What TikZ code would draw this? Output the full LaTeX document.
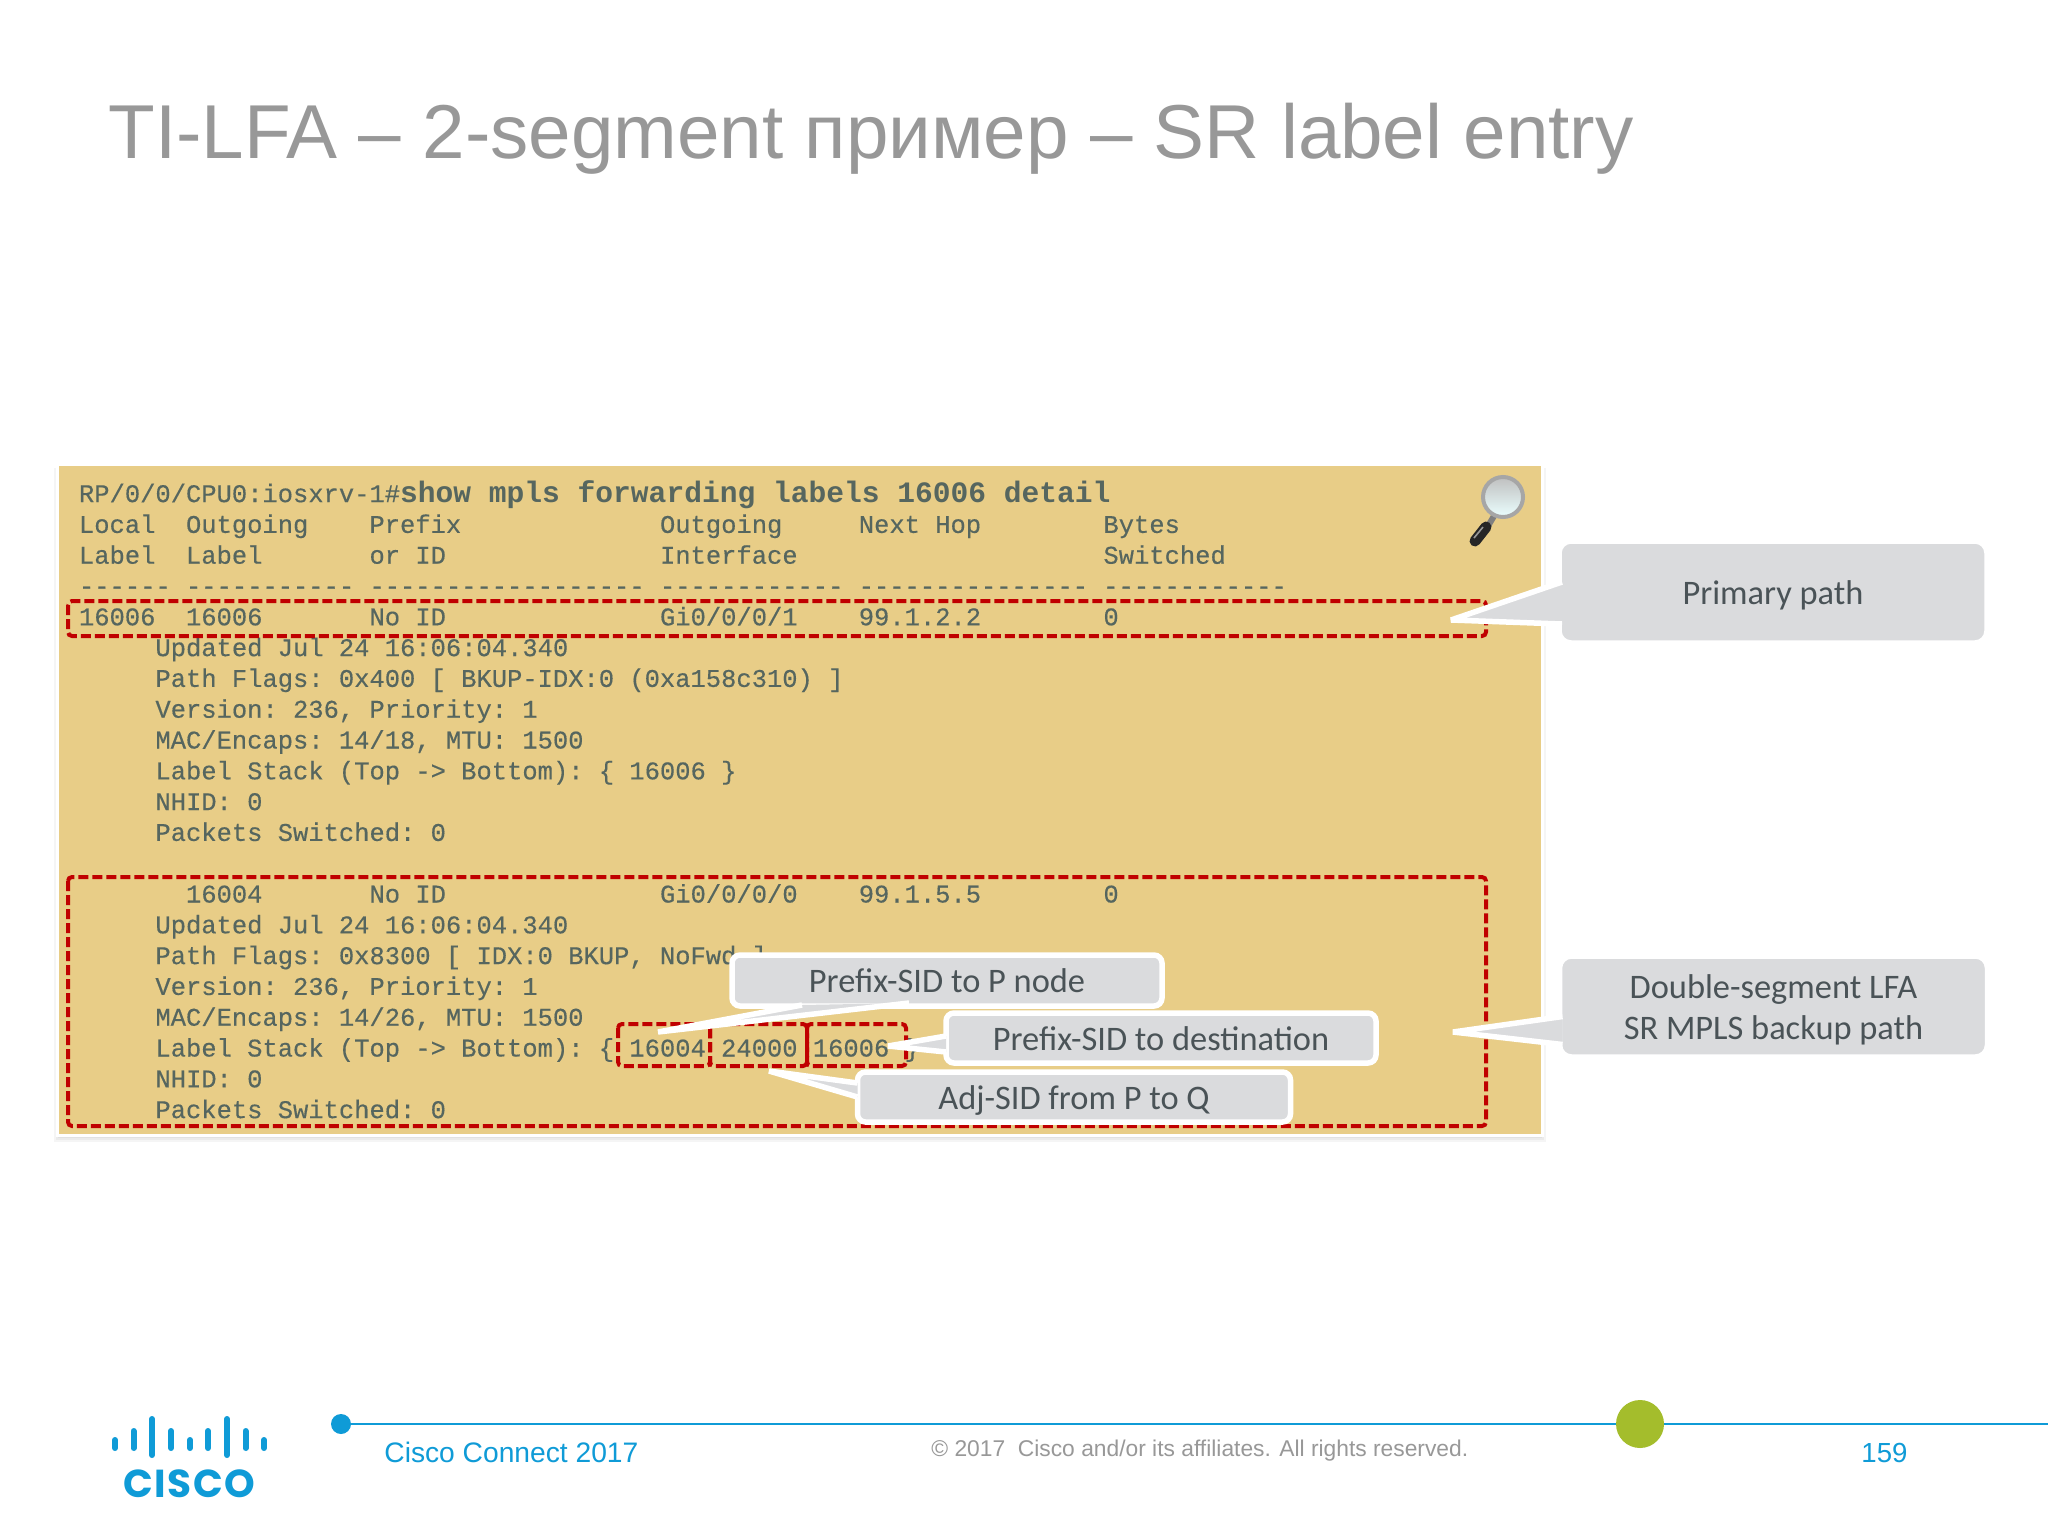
\documentclass[tikz,border=0pt]{standalone}
\usepackage{fontspec}
\setmainfont{Liberation Sans}
\setmonofont[FakeBold=0.35]{Liberation Mono}
\newfontfamily\calloutfont{Carlito}
\newfontfamily\cmdfont{Liberation Mono}
\newfontfamily\logofont[LetterSpace=4]{Poppins}
\usepackage{tikz}
\usetikzlibrary{arrows,shapes,positioning}
\definecolor{panelbg}{HTML}{E8CD87}
\definecolor{termtext}{HTML}{56665F}
\definecolor{calloutgray}{HTML}{DADBDD}
\definecolor{calloutink}{HTML}{4A5357}
\definecolor{titlegray}{HTML}{989898}
\definecolor{ciscoblue}{HTML}{0F9BD7}
\definecolor{boxred}{HTML}{C00000}
\definecolor{dotgreen}{HTML}{A4BD2C}
\tikzset{
  term/.style={font=\ttfamily\fontsize{12.74}{15}\selectfont, text=termtext, inner sep=0pt, outer sep=0pt, text height=11pt, text depth=4.4pt, anchor=west},
  nextline/.style={below=0pt of #1.south west, anchor=north west},
  redbox/.style={draw=boxred, line width=2pt, dash pattern=on 5pt off 2pt, rounded corners=2pt},
  callout/.style={fill=calloutgray, draw=white, line width=2.75pt, rounded corners=4pt, inner sep=0pt, outer sep=0pt, text=calloutink, align=center, font=\calloutfont\fontsize{17.2}{20.5}\selectfont},
  oneline/.style={text height=15pt, text depth=3pt},
  tail/.style={fill=calloutgray, draw=white, line width=2.75pt, line join=bevel},
  bar/.style={ciscoblue, line width=3pt, line cap=round},
}
\begin{document}
\begin{tikzpicture}[x=0.5pt, y=-0.5pt]
      \useasboundingbox (0,0) rectangle (2048,1536);
      \fill[white] (0,0) rectangle (2048,1536);

      \node[anchor=base west, text=titlegray, inner sep=0pt, font=\fontsize{38.2}{46}\selectfont] (title) at (108,158) {TI-LFA – 2-segment пример – SR label entry};

      \foreach \s in {1,3,5} {
        \fill[black, opacity=0.04] (59-\s,468) rectangle (1541+\s,1137+\s);
      }
      \fill[white] (56,463) rectangle (1544,1137);
      \node[fill=panelbg, inner sep=0pt, outer sep=0pt, minimum width=741pt, minimum height=334pt, anchor=north west] (panel) at (59,466) {};

      \node[term] (l1) at (79,495.5) {RP/0/0/CPU0:iosxrv-1\#{\cmdfont\bfseries\fontsize{14.8}{15}\selectfont show mpls forwarding labels 16006 detail}};
      \node[term] (l2) [nextline=l1] {Local~~Outgoing~~~~Prefix~~~~~~~~~~~~~Outgoing~~~~~Next~Hop~~~~~~~~Bytes};
      \node[term] (l3) [nextline=l2] {Label~~Label~~~~~~~or~ID~~~~~~~~~~~~~~Interface~~~~~~~~~~~~~~~~~~~~Switched};
      \node[term] (l4) [nextline=l3] {------~-----------~------------------~------------~---------------~------------};
      \node[term] (l5) [nextline=l4] {16006~~16006~~~~~~~No~ID~~~~~~~~~~~~~~Gi0/0/0/1~~~~99.1.2.2~~~~~~~~0};
      \node[term] (l6) [nextline=l5] {~~~~~Updated~Jul~24~16:06:04.340};
      \node[term] (l7) [nextline=l6] {~~~~~Path~Flags:~0x400~[~BKUP-IDX:0~(0xa158c310)~]};
      \node[term] (l8) [nextline=l7] {~~~~~Version:~236,~Priority:~1};
      \node[term] (l9) [nextline=l8] {~~~~~MAC/Encaps:~14/18,~MTU:~1500};
      \node[term] (l10) [nextline=l9] {~~~~~Label~Stack~(Top~->~Bottom):~\{~16006~\}};
      \node[term] (l11) [nextline=l10] {~~~~~NHID:~0};
      \node[term] (l12) [nextline=l11] {~~~~~Packets~Switched:~0};
      \node[term] (l13) [nextline=l12] {~};
      \node[term] (l14) [nextline=l13] {~~~~~~~16004~~~~~~~No~ID~~~~~~~~~~~~~~Gi0/0/0/0~~~~99.1.5.5~~~~~~~~0};
      \node[term] (l15) [nextline=l14] {~~~~~Updated~Jul~24~16:06:04.340};
      \node[term] (l16) [nextline=l15] {~~~~~Path~Flags:~0x8300~[~IDX:0~BKUP,~NoFwd~]};
      \node[term] (l17) [nextline=l16] {~~~~~Version:~236,~Priority:~1};
      \node[term] (l18) [nextline=l17] {~~~~~MAC/Encaps:~14/26,~MTU:~1500};
      \node[term] (l19) [nextline=l18] {~~~~~Label~Stack~(Top~->~Bottom):~\{~16004~24000~16006~\}};
      \node[term] (l20) [nextline=l19] {~~~~~NHID:~0};
      \node[term] (l21) [nextline=l20] {~~~~~Packets~Switched:~0};

      \draw[redbox] (68,601) rectangle (1486,636);
      \draw[redbox] (68,877) rectangle (1486,1126);
      \draw[redbox] (618,1024) rectangle (710,1066);
      \draw[redbox] (710,1024) rectangle (807,1066);
      \draw[redbox] (807,1024) rectangle (906,1066);

      \draw[black!50, line width=3pt] (1494,516) -- (1488,526);
      \draw[black!85, line width=5.5pt, line cap=round] (1486,527) -- (1475,541);
      \draw[white!60!black, line width=0.8pt] (1483,527) -- (1474,538);
      \shade[top color=black!25, bottom color=white!92!cyan, draw=black!35, line width=2pt] (1503,497) circle (20);

      \node[callout, oneline, minimum width=215pt, minimum height=25.5pt] (pnode) at (947,980.5) {Prefix-SID to P node};
      \node[callout, oneline, minimum width=215pt, minimum height=25pt] (dest) at (1161,1038) {Prefix-SID to destination};
      \node[callout, oneline, minimum width=216.5pt, minimum height=25pt] (adj) at (1074,1097) {Adj-SID from P to Q};
      \node[callout, oneline, rounded corners=6pt, minimum width=214pt, minimum height=51pt] (primary) at (1773,592) {Primary path};
      \node[callout, rounded corners=6pt, minimum width=214pt, minimum height=50.5pt] (double) at (1773.5,1006.5) {\rule{0pt}{15.2pt}Double-segment LFA\\SR MPLS backup path};

      \coordinate (pnodetip) at (658,1032);
      \coordinate (desttip) at (888,1046);
      \coordinate (adjtip) at (769,1071);
      \coordinate (primarytip) at (1451,620);
      \coordinate (doubletip) at (1453,1032);

      \path[tail] (pnode.south west) ++(35pt,0.5pt) -- (pnodetip) -- ++(125.5pt,14.5pt) ;
      \path[tail] ([yshift=1pt]dest.west) -- (desttip) -- ([yshift=-7pt]dest.west);
      \path[tail] ([yshift=7pt]adj.west) -- (adjtip) -- ([yshift=0pt]adj.west);
      \path[tail] ([yshift=5pt,xshift=1.5pt]primary.west) -- (primarytip) -- ([yshift=-16pt,xshift=1.5pt]primary.west);
      \path[tail] ([yshift=-5pt,xshift=1.5pt]double.west) -- (doubletip) -- ([yshift=-19pt,xshift=1.5pt]double.west);

      \draw[ciscoblue, line width=1.2pt] (341,1424) -- (2048,1424);
      \fill[ciscoblue] (341,1424) circle (10);
      \fill[dotgreen] (1640,1424) circle (24);

      \node[anchor=base west, text=ciscoblue, inner sep=0pt, font=\fontsize{14.1}{17}\selectfont] (event) at (384,1462) {Cisco Connect 2017};
      \node[anchor=base west, text=titlegray, inner sep=0pt, font=\fontsize{11.4}{14}\selectfont] (copy) at (931,1456) {© 2017~~Cisco and/or its affiliates. All rights reserved.};
      \node[anchor=base west, text=ciscoblue, inner sep=0pt, font=\fontsize{13.8}{17}\selectfont] (page) at (1861,1462) {159};

      \draw[bar] (115,1440) -- (115,1448);
      \draw[bar] (133.5,1431) -- (133.5,1448);
      \draw[bar] (152,1419) -- (152,1455);
      \draw[bar] (171,1431) -- (171,1448);
      \draw[bar] (190,1440) -- (190,1448);
      \draw[bar] (208,1431) -- (208,1448);
      \draw[bar] (227,1419) -- (227,1455);
      \draw[bar] (245.5,1431) -- (245.5,1448);
      \draw[bar] (264,1440) -- (264,1448);
      \node[anchor=base, text=ciscoblue, inner sep=0pt, font=\logofont\bfseries\fontsize{19.5}{24}\selectfont] (logo) at (189.5,1497) {CISCO};
    \end{tikzpicture}
\end{document}
